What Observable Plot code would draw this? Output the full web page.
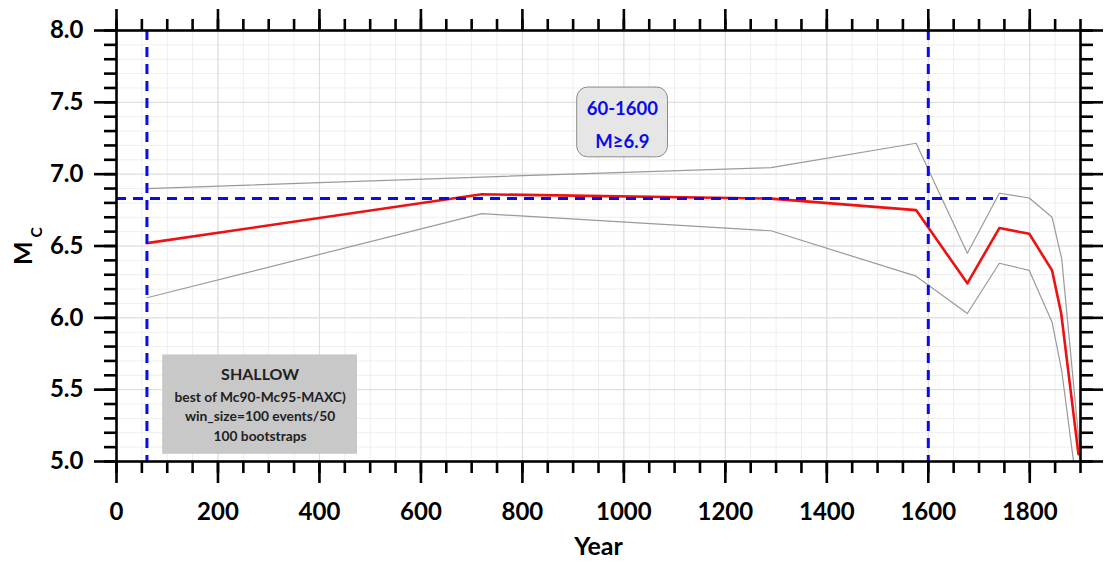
<!DOCTYPE html>
<html>
<head>
<meta charset="utf-8">
<script src="https://cdn.jsdelivr.net/npm/d3@7"></script>
<script src="https://cdn.jsdelivr.net/npm/@observablehq/plot@0.6"></script>
<style>
  html, body { margin: 0; padding: 0; background: #fff; }
  #chart { width: 1106px; height: 561px; }
</style>
</head>
<body>
<div id="chart"></div>
<script>
// ---- data ----
const midYears   = [60, 720, 1290, 1576, 1677, 1740, 1799, 1844, 1862, 1896];
const mcMid      = [6.52, 6.86, 6.83, 6.75, 6.24, 6.625, 6.585, 6.33, 6.03, 5.05];
const upperYears = [60, 720, 1290, 1576, 1677, 1740, 1799, 1844, 1863, 1898];
const mcUpper    = [6.90, 6.98, 7.045, 7.215, 6.45, 6.867, 6.834, 6.70, 6.41, 5.10];
const lowerYears = [60, 720, 1290, 1576, 1677, 1740, 1799, 1844, 1863, 1890];
const mcLower    = [6.14, 6.725, 6.606, 6.29, 6.03, 6.38, 6.33, 5.97, 5.63, 4.90];

const refYears   = [60, 1600];          // vertical dashed lines
const refMc      = 6.83;                // horizontal dashed line level
const refMcSpan  = [0, 1757];           // horizontal dashed line extent

const xMajorTicks = [0, 200, 400, 600, 800, 1000, 1200, 1400, 1600, 1800];
const xMinorTicks = d3.range(0, 39).map(i => i * 50);
const yMajorTicks = [5.0, 5.5, 6.0, 6.5, 7.0, 7.5, 8.0];
const yMinorTicks = d3.range(50, 81).map(i => i / 10);

const box1Lines = ["60-1600", "M≥6.9"];
const box2Lines = ["SHALLOW", "best of Mc90-Mc95-MAXC)", "win_size=100 events/50", "100 bootstraps"];

// tables
const mid   = midYears.map((x, i) => ({x, y: mcMid[i]}));
const upper = upperYears.map((x, i) => ({x, y: mcUpper[i]}));
const lower = lowerYears.map((x, i) => ({x, y: mcLower[i]}));

const blue = "#0a0aee";
const dash = "10,7";

const plot = Plot.plot({
  width: 1106,
  height: 561,
  marginLeft: 116,
  marginRight: 26,
  marginTop: 30,
  marginBottom: 100,
  style: {fontFamily: "Lato", fontWeight: "bold", color: "black", background: "white"},
  x: {domain: [0, 1900]},
  y: {domain: [5, 8]},
  marks: [
    // grid
    Plot.gridX(xMinorTicks, {stroke: "#eeeeee", strokeOpacity: 1}),
    Plot.gridY(yMinorTicks, {stroke: "#eeeeee", strokeOpacity: 1}),
    Plot.gridX(xMajorTicks, {stroke: "#dcdcdc", strokeOpacity: 1}),
    Plot.gridY(yMajorTicks, {stroke: "#dcdcdc", strokeOpacity: 1}),

    // annotation box 2 (SHALLOW)
    Plot.rect([{x1: 91, x2: 475, y1: 5.05, y2: 5.742}], {x1: "x1", x2: "x2", y1: "y1", y2: "y2", fill: "#c8c8c8"}),
    Plot.text(box2Lines.slice(0, 1), {x: 283, y: 5.6, text: d => d, fontSize: 16, fill: "#222"}),
    Plot.text(box2Lines.slice(1), {x: 283, y: (d, i) => [5.445, 5.31, 5.17][i], text: d => d, fontSize: 13.8, fill: "#222"}),

    // curves
    Plot.line(upper, {x: "x", y: "y", stroke: "#9a9a9a", strokeWidth: 1.2, clip: true}),
    Plot.line(lower, {x: "x", y: "y", stroke: "#9a9a9a", strokeWidth: 1.2, clip: true}),
    Plot.line(mid, {x: "x", y: "y", stroke: "#ee1111", strokeWidth: 2.6, clip: true}),

    // dashed reference lines
    Plot.ruleX(refYears, {stroke: blue, strokeWidth: 3, strokeDasharray: dash}),
    Plot.ruleY([refMc], {x1: refMcSpan[0], x2: refMcSpan[1], stroke: blue, strokeWidth: 3, strokeDasharray: dash}),

    // annotation box 1
    Plot.rect([{x1: 908, x2: 1087, y1: 7.117, y2: 7.603}], {x1: "x1", x2: "x2", y1: "y1", y2: "y2", fill: "#e6e6e6", stroke: "#8a8a8a", rx: 11}),
    Plot.text(box1Lines, {x: 997, y: (d, i) => [7.456, 7.225][i], text: d => d, fontSize: 18.5, fill: blue}),

    // frame
    Plot.frame({stroke: "black", strokeWidth: 2.6}),

    // axes: minor ticks
    Plot.axisX(xMinorTicks, {anchor: "bottom", tickSize: 12, tickFormat: () => "", strokeWidth: 2.6, label: null}),
    Plot.axisX(xMinorTicks, {anchor: "top", tickSize: 12, tickFormat: () => "", strokeWidth: 2.6, label: null}),
    Plot.axisY(yMinorTicks, {anchor: "left", tickSize: 12, tickFormat: () => "", strokeWidth: 2.6, label: null}),
    Plot.axisY(yMinorTicks, {anchor: "right", tickSize: 12, tickFormat: () => "", strokeWidth: 2.6, label: null}),
    // axes: major ticks
    Plot.axisX(xMajorTicks, {anchor: "bottom", tickSize: 22, tickPadding: 19, fontSize: 24, fontWeight: "bold", strokeWidth: 2.6, label: null, tickFormat: d => String(d)}),
    Plot.axisX(xMajorTicks, {anchor: "top", tickSize: 22, tickFormat: () => "", strokeWidth: 2.6, label: null}),
    Plot.axisY(yMajorTicks, {anchor: "left", tickSize: 22, tickPadding: 11, fontSize: 24, fontWeight: "bold", strokeWidth: 2.6, label: null, tickFormat: d3.format(".1f")}),
    Plot.axisY(yMajorTicks, {anchor: "right", tickSize: 22, tickFormat: () => "", strokeWidth: 2.6, label: null}),

    // axis titles
    Plot.text(["Year"], {frameAnchor: "bottom", dy: 93, text: d => d, fontSize: 25, fontWeight: "bold", fill: "black"}),
    Plot.text(["M"], {x: -183, y: 6.45, rotate: -90, text: d => d, fontSize: 25, fontWeight: "bold", fill: "black", clip: false}),
    Plot.text(["C"], {x: -157, y: 6.595, rotate: -90, text: d => d, fontSize: 15.5, fontWeight: "bold", fill: "black", clip: false})
  ]
});

document.getElementById("chart").appendChild(plot);
</script>
</body>
</html>
